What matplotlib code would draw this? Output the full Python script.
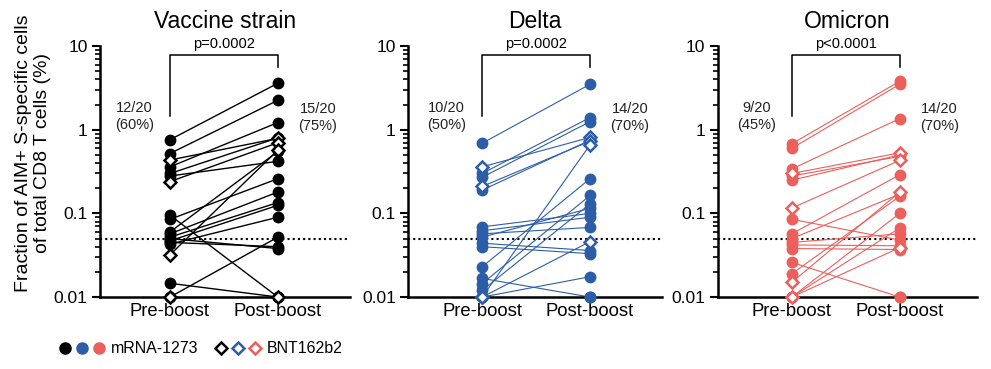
import matplotlib
matplotlib.use("Agg")
import matplotlib.pyplot as plt
from matplotlib.lines import Line2D
from matplotlib.legend_handler import HandlerTuple

plt.rcParams['font.family'] = ['Liberation Sans', 'DejaVu Sans']

panel_titles = ["Vaccine strain", "Delta", "Omicron"]
panel_colors = ["black", "#2c5ea8", "#ec5f5b"]
p_values = ["p=0.0002", "p=0.0002", "p<0.0001"]
pre_labels = ["12/20\n(60%)", "10/20\n(50%)", "9/20\n(45%)"]
post_labels = ["15/20\n(75%)", "14/20\n(70%)", "14/20\n(70%)"]
timepoints = ["Pre-boost", "Post-boost"]
vaccine_names = ["mRNA-1273", "BNT162b2"]

# first 16 subjects mRNA-1273, last 4 BNT162b2
vaccine = ["mRNA-1273"] * 16 + ["BNT162b2"] * 4

wt_pre = [0.76, 0.52, 0.36, 0.30, 0.28, 0.095, 0.085, 0.057, 0.052, 0.047,
          0.043, 0.06, 0.05, 0.0146, 0.01, 0.045,
          0.435, 0.24, 0.032, 0.01]
wt_post = [3.6, 2.25, 1.22, 0.80, 0.42, 0.01, 0.26, 0.18, 0.135, 0.125,
           0.09, 0.55, 0.038, 0.01, 0.052, 0.04,
           0.79, 0.70, 0.57, 0.01]

delta_pre = [0.69, 0.30, 0.27, 0.19, 0.069, 0.062, 0.057, 0.052, 0.044, 0.040,
             0.023, 0.0145, 0.012, 0.0167, 0.01, 0.01,
             0.36, 0.21, 0.01, 0.01]
delta_post = [3.5, 1.40, 1.25, 0.75, 0.10, 0.09, 0.068, 0.115, 0.036, 0.033,
              0.26, 0.164, 0.13, 0.01, 0.0175, 0.01,
              0.81, 0.73, 0.66, 0.046]

omicron_pre = [0.68, 0.60, 0.34, 0.28, 0.25, 0.085, 0.057, 0.05, 0.042, 0.038,
               0.026, 0.019, 0.01, 0.01, 0.01, 0.045,
               0.30, 0.116, 0.015, 0.01]
omicron_post = [3.8, 3.5, 1.36, 0.48, 0.50, 0.048, 0.29, 0.17, 0.041, 0.037,
                0.01, 0.16, 0.10, 0.067, 0.01, 0.057,
                0.53, 0.43, 0.18, 0.039]

pre_data = [wt_pre, delta_pre, omicron_pre]
post_data = [wt_post, delta_post, omicron_post]

limit_of_detection = 0.05

fig = plt.figure(figsize=(9.91, 3.69), dpi=100)
ax_rects = [[0.101, 0.195, 0.252, 0.68],
            [0.412, 0.195, 0.256, 0.68],
            [0.7245, 0.195, 0.261, 0.68]]
x_lims = [(-0.648, 1.667), (-0.685, 1.667), (-0.685, 1.713)]

for i in range(3):
    ax = fig.add_axes(ax_rects[i])
    col = panel_colors[i]
    lw = 1.0 if i == 0 else 0.8
    pre = pre_data[i]
    post = post_data[i]

    for j in range(len(pre)):
        ax.plot([0, 1], [pre[j], post[j]], color=col, lw=lw, zorder=2, clip_on=False)

    for j in range(len(pre)):
        if vaccine[j] == "mRNA-1273":
            ax.plot([0, 1], [pre[j], post[j]], ls='none', marker='o', ms=7.5,
                    mfc=col, mec=col, zorder=3, clip_on=False)
    for j in range(len(pre)):
        if vaccine[j] == "BNT162b2":
            ax.plot([0, 1], [pre[j], post[j]], ls='none', marker='D', ms=6.3,
                    mfc='white', mec=col, mew=1.8, zorder=4, clip_on=False)

    ax.axhline(limit_of_detection, color='black', lw=1.5, ls=(0, (1, 1.5)), zorder=1)

    ax.set_yscale('log')
    ax.set_ylim(0.01, 10)
    ax.set_xlim(*x_lims[i])
    ax.set_yticks([0.01, 0.1, 1, 10])
    ax.set_yticklabels(["0.01", "0.1", "1", "10"], fontsize=12.5)
    ax.set_xticks([0, 1])
    ax.set_xticklabels(timepoints, fontsize=13.3)
    ax.tick_params(axis='x', length=0, pad=4)
    ax.tick_params(axis='y', which='major', length=6, width=1.5, pad=3)
    ax.tick_params(axis='y', which='minor', length=3.5, width=1.2)
    for s in ['top', 'right']:
        ax.spines[s].set_visible(False)
    for s in ['left', 'bottom']:
        ax.spines[s].set_linewidth(1.8)

    ax.set_title(panel_titles[i], fontsize=16.5, pad=13)

    # bracket with p value
    ax.plot([0, 0, 1, 1], [1.45, 7.8, 7.8, 5.6], color='black', lw=1.1, clip_on=False)
    ax.text(0.5, 10.5, p_values[i], ha='center', va='center', fontsize=10.5, clip_on=False)

    ax.text(-0.33, 1.45, pre_labels[i], ha='center', va='center', fontsize=10.5,
            linespacing=1.3, color='#222222')
    ax.text(1.37, 1.4, post_labels[i], ha='center', va='center', fontsize=10.5,
            linespacing=1.3, color='#222222')

    if i == 0:
        ax.set_ylabel("Fraction of AIM+ S-specific cells\nof total CD8 T cells (%)",
                      fontsize=14, linespacing=1.1)
        ax.yaxis.set_label_coords(-0.198, 0.575)

circle_handles = tuple(Line2D([], [], ls='none', marker='o', ms=8, mfc=c, mec=c)
                       for c in panel_colors)
diamond_handles = tuple(Line2D([], [], ls='none', marker='D', ms=6.5, mfc='white',
                               mec=c, mew=1.8) for c in panel_colors)
fig.legend([circle_handles, diamond_handles], vaccine_names,
           handler_map={tuple: HandlerTuple(ndivide=None, pad=0.25)},
           loc='center left', bbox_to_anchor=(0.044, 0.055), ncol=2,
           frameon=False, fontsize=11.5, handlelength=3.0, handletextpad=0.3,
           columnspacing=1.0)

fig.savefig("out.png", dpi=100)
